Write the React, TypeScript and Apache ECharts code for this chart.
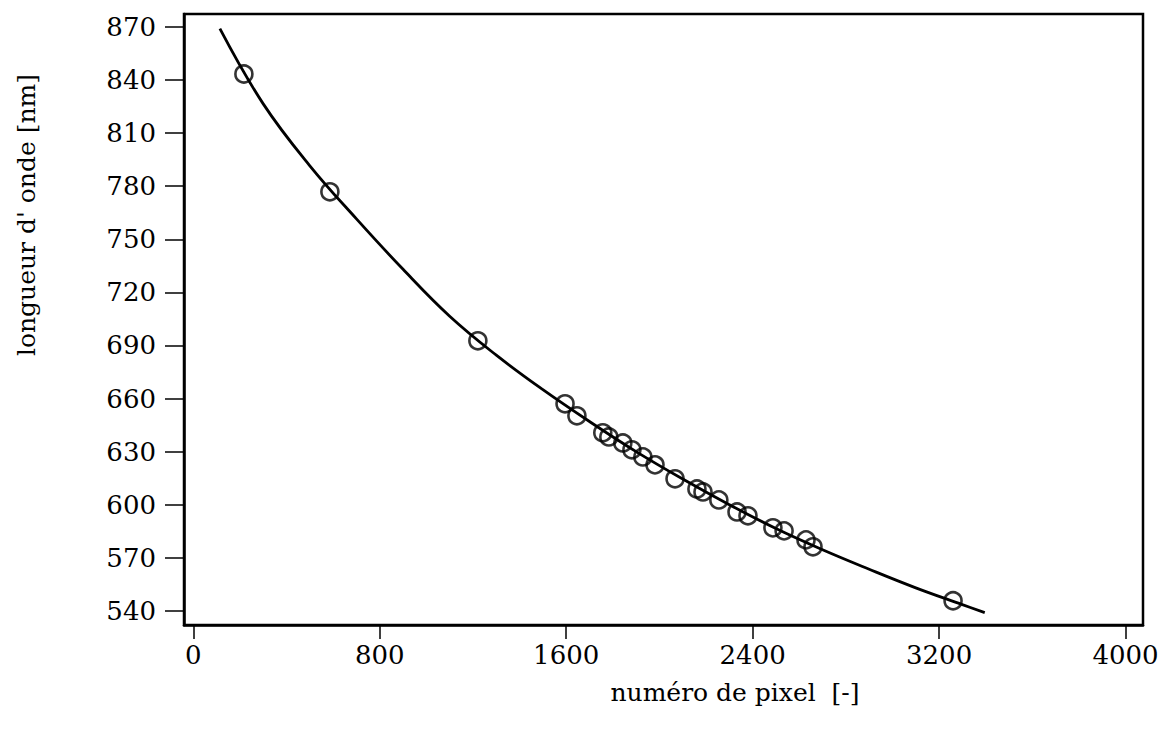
import React, { useEffect, useRef } from "react";
import * as echarts from "echarts";

// Measured calibration lines: pixel number vs wavelength
const pixelNumbers = [217, 586, 1221, 1595, 1646, 1757, 1783, 1843, 1882, 1929, 1981, 2067, 2161, 2187, 2255, 2333, 2380, 2487, 2535, 2629, 2659, 3260];
const wavelengths = [843.4, 776.8, 692.6, 657.0, 650.2, 640.6, 638.3, 634.9, 631.0, 627.0, 622.5, 614.6, 608.9, 607.2, 602.7, 595.9, 593.7, 586.9, 585.2, 580.1, 576.2, 545.7];

// Fitted calibration curve
const fitPixels = [114, 300, 500, 700, 900, 1100, 1300, 1500, 1700, 1900, 2100, 2300, 2500, 2700, 2900, 3100, 3300, 3396];
const fitWavelengths = [869, 826.5, 791.5, 761.5, 733, 706.5, 684.5, 665, 647, 630, 614.5, 600, 586.5, 574.5, 563.5, 553, 543.5, 539];

const xTicks = [0, 800, 1600, 2400, 3200, 4000];
const yTicks = [540, 570, 600, 630, 660, 690, 720, 750, 780, 810, 840, 870];

const FONT = "DejaVu Serif";

export default function App() {
  const ref = useRef<HTMLDivElement>(null);

  useEffect(() => {
    if (!ref.current) return;
    const chart = echarts.init(ref.current, null, { renderer: "svg" });
    chart.setOption({
      animation: false,
      backgroundColor: "#ffffff",
      grid: {
        left: 184,
        top: 14,
        right: 25,
        bottom: 105,
        show: true,
        borderColor: "#000",
        borderWidth: 2.5,
      },
      xAxis: {
        type: "value",
        min: -40,
        max: 4075,
        axisLine: { show: true, onZero: false, lineStyle: { color: "#000", width: 2.5 } },
        axisTick: {
          show: true,
          inside: false,
          length: 14,
          lineStyle: { color: "#000", width: 1.5 },
          customValues: xTicks,
        },
        axisLabel: {
          color: "#000",
          fontFamily: FONT,
          fontSize: 26,
          margin: 17,
          customValues: xTicks,
          formatter: (v: number) => String(v),
        },
        splitLine: { show: false },
      },
      yAxis: {
        type: "value",
        min: 532,
        max: 877.3,
        axisLine: { show: true, onZero: false, lineStyle: { color: "#000", width: 2.5 } },
        axisTick: {
          show: true,
          inside: false,
          length: 19,
          lineStyle: { color: "#000", width: 1.5 },
          customValues: yTicks,
        },
        axisLabel: {
          color: "#000",
          fontFamily: FONT,
          fontSize: 26,
          margin: 28,
          customValues: yTicks,
          formatter: (v: number) => String(v),
        },
        splitLine: { show: false },
      },
      graphic: [
        {
          type: "text",
          x: 735,
          y: 692,
          style: {
            text: "numéro de pixel  [-]",
            font: `25px "${FONT}"`,
            fill: "#000",
            textAlign: "center",
            textVerticalAlign: "middle",
          },
        },
        {
          type: "text",
          x: 26,
          y: 215,
          rotation: Math.PI / 2,
          style: {
            text: "longueur d' onde [nm]",
            font: `25px "${FONT}"`,
            fill: "#000",
            textAlign: "center",
            textVerticalAlign: "middle",
          },
        },
      ],
      series: [
        {
          type: "line",
          data: fitPixels.map((x, i) => [x, fitWavelengths[i]]),
          smooth: 0.4,
          showSymbol: false,
          lineStyle: { color: "#000", width: 2.8 },
          z: 2,
        },
        {
          type: "scatter",
          data: pixelNumbers.map((x, i) => [x, wavelengths[i]]),
          symbol: "circle",
          symbolSize: 17,
          itemStyle: { color: "transparent", borderColor: "#000", borderWidth: 2.6 },
          z: 3,
        },
      ],
    });
    return () => chart.dispose();
  }, []);

  return (
    <div
      ref={ref}
      style={{ position: "fixed", left: 0, top: 0, width: 1168, height: 730 }}
    />
  );
}
